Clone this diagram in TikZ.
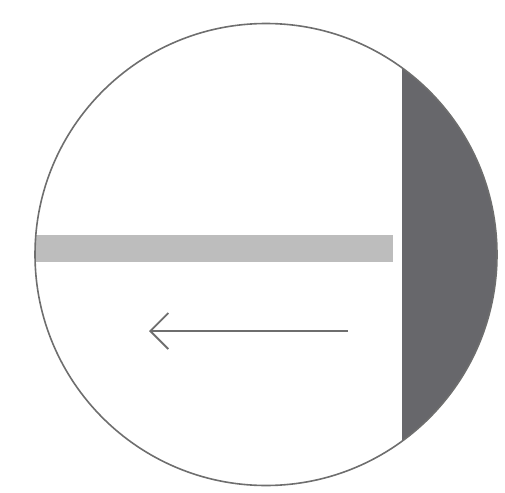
\documentclass[tikz,border=0pt]{standalone}
\usepackage{tikz}
\usetikzlibrary{arrows.meta}
\definecolor{rimgray}{HTML}{6E6E6E}
\definecolor{bargray}{HTML}{BDBDBD}
\definecolor{capgray}{HTML}{67676B}
\begin{document}
\begin{tikzpicture}[x=1pt,y=-1pt]
			\useasboundingbox (0,0) rectangle (505,492);
			% cap on the right side of the disc
			\begin{scope}
				\clip (266,254.5) circle (231);
				\fill[capgray] (401.5,0) rectangle (505,492);
			\end{scope}
			\fill[bargray] (36,235) rectangle (393,262);
			\draw[rimgray, line width=1.6pt] (266,254.5) circle (231);
			\draw[rimgray, line width=1.8pt, -{Straight Barb[length=18pt,width=36pt]}] (348,331) -- (149,331);
		\end{tikzpicture}
\end{document}
